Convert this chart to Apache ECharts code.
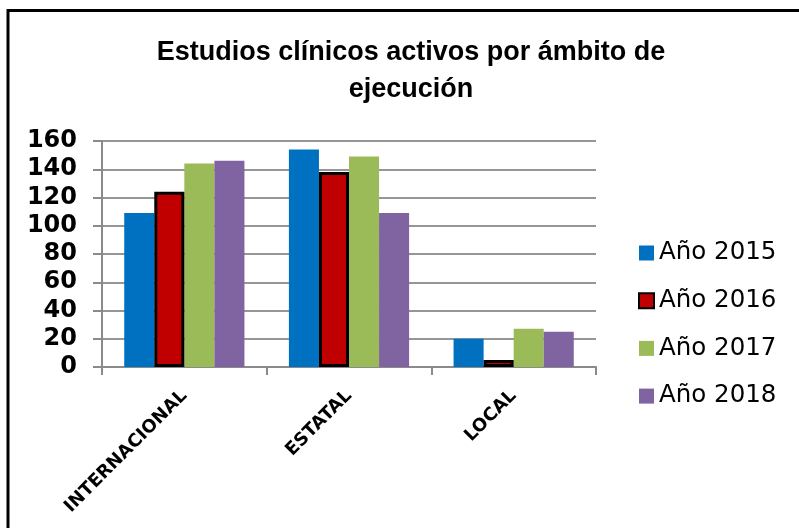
<!DOCTYPE html>
<html>
<head>
<meta charset="utf-8">
<script src="https://cdn.jsdelivr.net/npm/echarts@6/dist/echarts.min.js"></script>
<style>
  html, body { margin: 0; padding: 0; background: #fff; }
  #chart { width: 799px; height: 528px; }
</style>
</head>
<body>
<div id="chart"></div>
<script>
// Active clinical studies by scope, 2015-2018
const categories = ['INTERNACIONAL', 'ESTATAL', 'LOCAL'];
const seriesNames = ['Año 2015', 'Año 2016', 'Año 2017', 'Año 2018'];
const values2015 = [109, 154, 20];
const values2016 = [124, 138, 5];
const values2017 = [144, 149, 27];
const values2018 = [146, 109, 25];
const yTicks = [0, 20, 40, 60, 80, 100, 120, 140, 160];

const seriesValues = [values2015, values2016, values2017, values2018];
const colors = ['#0070C0', '#C00000', '#9BBB59', '#8064A2'];

const chart = echarts.init(document.getElementById('chart'), null, { renderer: 'canvas' });

const series = seriesNames.map((name, i) => ({
  name: name,
  type: 'bar',
  data: seriesValues[i],
  barGap: '0%',
  barCategoryGap: '27%',
  z: i === 1 ? 3 : 2,
  itemStyle: i === 1
    ? { color: colors[i], borderColor: '#000000', borderWidth: 3 }
    : { color: colors[i] }
}));

chart.setOption({
  animation: false,
  backgroundColor: '#ffffff',
  title: {
    text: 'Estudios clínicos activos por ámbito de\nejecución',
    left: 406,
    textAlign: 'center',
    top: 29,
    textStyle: {
      fontFamily: 'Liberation Sans',
      fontWeight: 'bold',
      fontSize: 27,
      lineHeight: 37,
      color: '#000000'
    }
  },
  legend: {
    orient: 'vertical',
    left: 638,
    top: 239,
    padding: 0,
    itemWidth: 15,
    itemHeight: 15,
    itemGap: 19.7,
    icon: 'rect',
    data: seriesNames,
    textStyle: {
      fontFamily: 'DejaVu Sans',
      fontSize: 24.5,
      lineHeight: 28,
      color: '#000000'
    }
  },
  grid: {
    left: 102,
    right: 203,
    top: 141,
    bottom: 161,
    containLabel: false
  },
  xAxis: {
    type: 'category',
    data: categories,
    axisLine: { show: true, lineStyle: { color: '#8a8a8a', width: 2 } },
    axisTick: { show: true, length: 8, lineStyle: { color: '#8a8a8a', width: 2 } },
    axisLabel: {
      rotate: 45,
      margin: 26,
      fontFamily: 'DejaVu Sans',
      fontWeight: 'bold',
      fontSize: 18,
      color: '#000000'
    },
    splitLine: { show: false }
  },
  yAxis: {
    type: 'value',
    min: yTicks[0],
    max: yTicks[yTicks.length - 1],
    interval: yTicks[1] - yTicks[0],
    axisLine: { show: true, lineStyle: { color: '#8a8a8a', width: 2 } },
    axisTick: { show: true, length: 9, lineStyle: { color: '#8a8a8a', width: 2 } },
    axisLabel: {
      margin: 25,
      fontFamily: 'DejaVu Sans',
      fontWeight: 'bold',
      fontSize: 24,
      color: '#000000'
    },
    splitLine: { show: true, lineStyle: { color: '#969696', width: 2 } }
  },
  graphic: [{
    type: 'rect',
    silent: true,
    z: 100,
    shape: { x: 8, y: 10.5, width: 820, height: 560 },
    style: { fill: null, stroke: '#000000', lineWidth: 3 }
  }],
  series: series
});
</script>
</body>
</html>
